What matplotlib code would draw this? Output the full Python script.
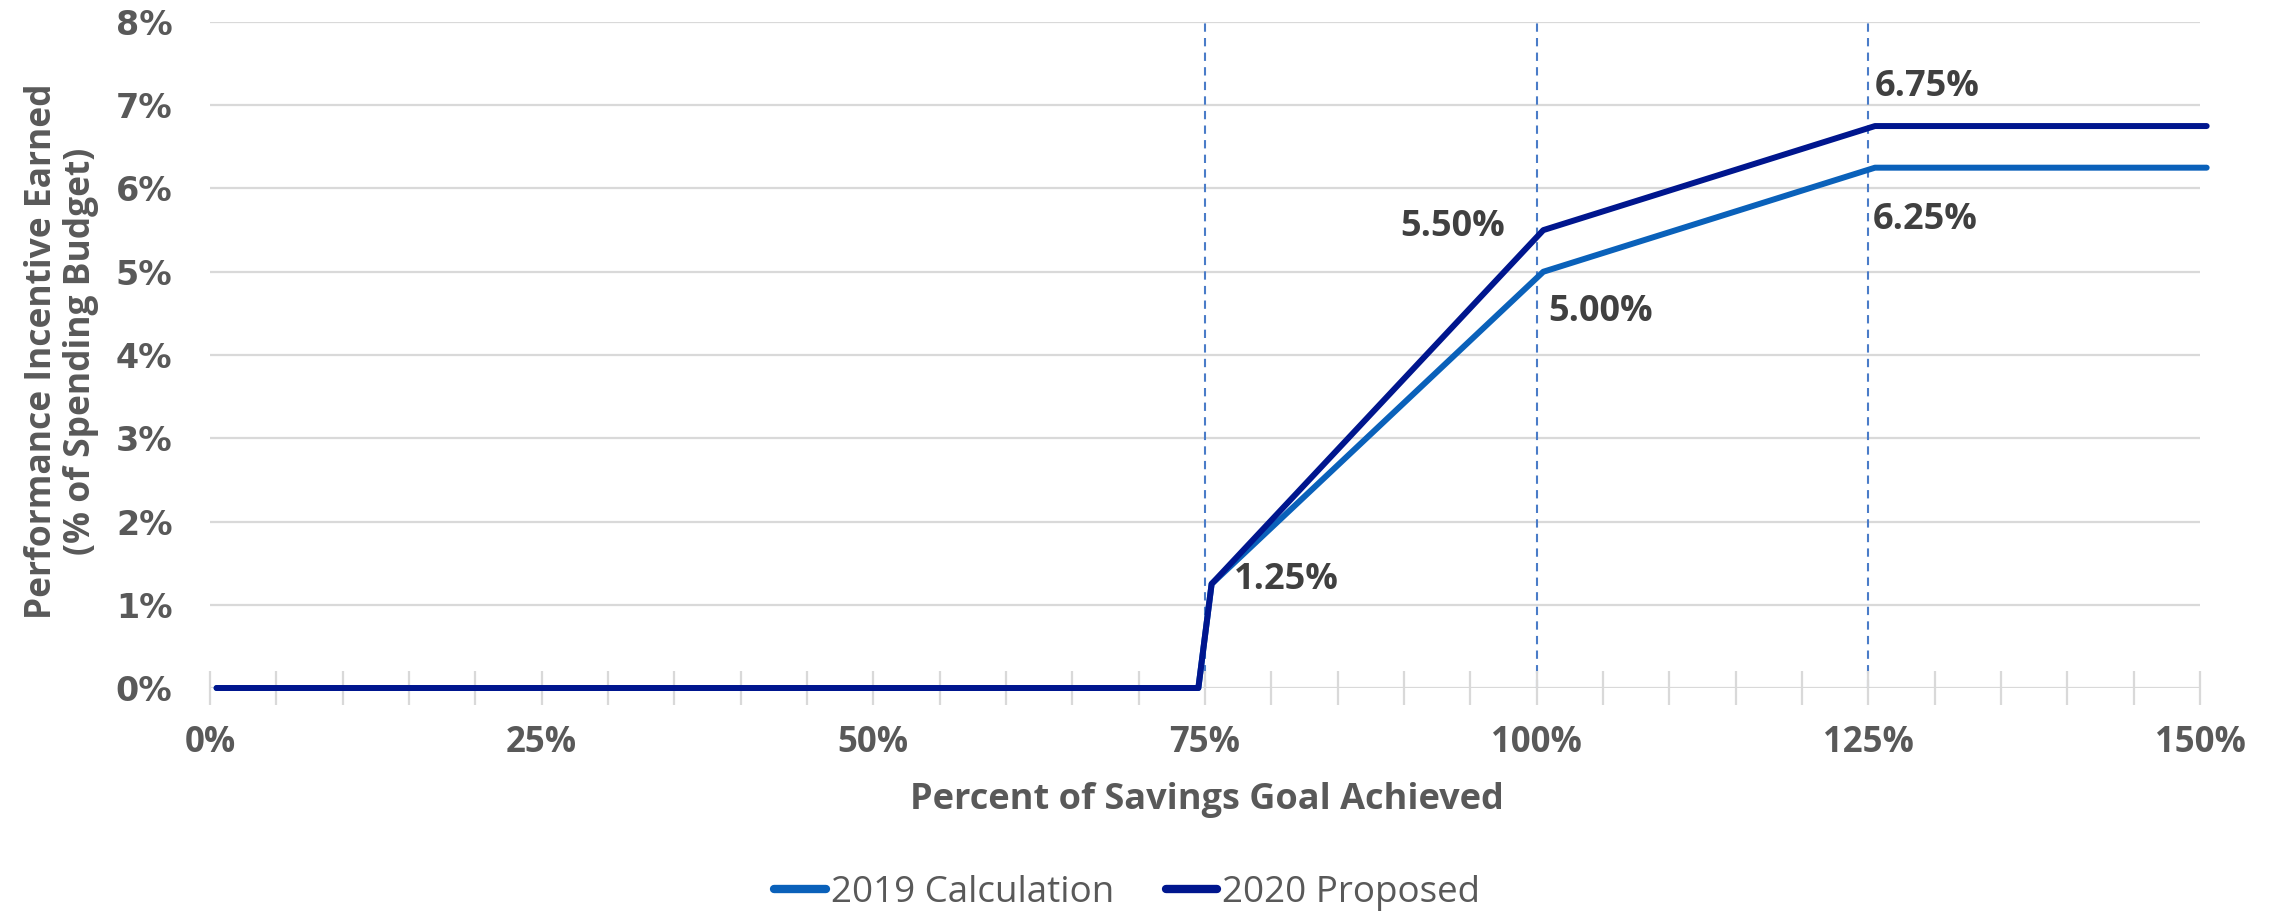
import matplotlib
matplotlib.use("Agg")
import matplotlib.pyplot as plt
import numpy as np

# ---- data ----
savings_pct = [0, 74, 75, 100, 125, 150]
incentive_2019 = [0.0, 0.0, 1.25, 5.00, 6.25, 6.25]
incentive_2020 = [0.0, 0.0, 1.25, 5.50, 6.75, 6.75]
threshold_pct = [75, 100, 125]
x_ticks = [0, 25, 50, 75, 100, 125, 150]
y_ticks = [0, 1, 2, 3, 4, 5, 6, 7, 8]
annotations = [  # (text, x, y, ha)
    ("1.25%", 77.2, 1.30, "left"),
    ("5.50%", 97.6, 5.54, "right"),
    ("5.00%", 100.9, 4.52, "left"),
    ("6.75%", 125.5, 7.22, "left"),
    ("6.25%", 125.3, 5.62, "left"),
]
series_names = ["2019 Calculation", "2020 Proposed"]

# ---- style ----
GRAY = "#595959"
DARK = "#404040"
C2019 = "#0A61BA"
C2020 = "#00168E"
FONT = "Open Sans"
offset = 0.5  # category-centre offset of the plotted points

fig = plt.figure(figsize=(22.77, 9.16), dpi=100)
ax = fig.add_axes([0.0922, 0.2489, 0.9662 - 0.0922, 0.976 - 0.2489])

ax.set_xlim(0, 150)
ax.set_ylim(0, 8)

for v in y_ticks:
    ax.axhline(v, color="#D9D9D9", lw=1.6, zorder=0)

for t in threshold_pct:
    ax.axvline(t, color="#4A7CC8", lw=1.5, ls=(0, (4, 3)), zorder=1)

xs = np.array(savings_pct) + offset
ax.plot(xs, incentive_2019, color=C2019, lw=4.3, solid_capstyle="round",
        solid_joinstyle="round", label=series_names[0], zorder=3,
        clip_on=False)
ax.plot(xs, incentive_2020, color=C2020, lw=4.3, solid_capstyle="round",
        solid_joinstyle="round", label=series_names[1], zorder=4,
        clip_on=False)

for s in ax.spines.values():
    s.set_visible(False)

ax.set_xticks(x_ticks)
ax.set_xticklabels([f"{v}%" for v in x_ticks], fontfamily=FONT,
                   fontweight="bold", fontsize=25, color=GRAY)
ax.set_xticks(np.arange(0, 151, 5), minor=True)
ax.tick_params(axis="x", which="both", direction="inout", length=25,
               width=1.6, color="#D9D9D9", pad=14)

ax.set_yticks(y_ticks)
ax.set_yticklabels([f"{v}%" for v in y_ticks], fontfamily="DejaVu Sans",
                   fontweight="bold", fontsize=24, color=GRAY)
ax.tick_params(axis="y", length=0, pad=27)

for txt, x, y, ha in annotations:
    ax.text(x, y, txt, ha=ha, va="center", fontfamily=FONT,
            fontweight="bold", fontsize=26, color=DARK)

fig.text(0.027, 0.616, "Performance Incentive Earned\n(% of Spending Budget)",
         rotation=90, ha="center", va="center", fontfamily=FONT,
         fontweight="bold", fontsize=25.5, color=GRAY, linespacing=1.12)

fig.text(0.530, 0.127, "Percent of Savings Goal Achieved", ha="center",
         va="center", fontfamily=FONT, fontweight="bold", fontsize=26,
         color=GRAY)

leg = fig.legend(loc="center", bbox_to_anchor=(0.495, 0.025), ncol=2,
                 frameon=False, handlelength=1.4, handletextpad=0.13,
                 columnspacing=1.4, prop={"family": FONT, "size": 26.5})
for t in leg.get_texts():
    t.set_color(GRAY)
for l in leg.get_lines():
    l.set_linewidth(6)
    l.set_solid_capstyle("round")

fig.savefig("out.png", dpi=100)
